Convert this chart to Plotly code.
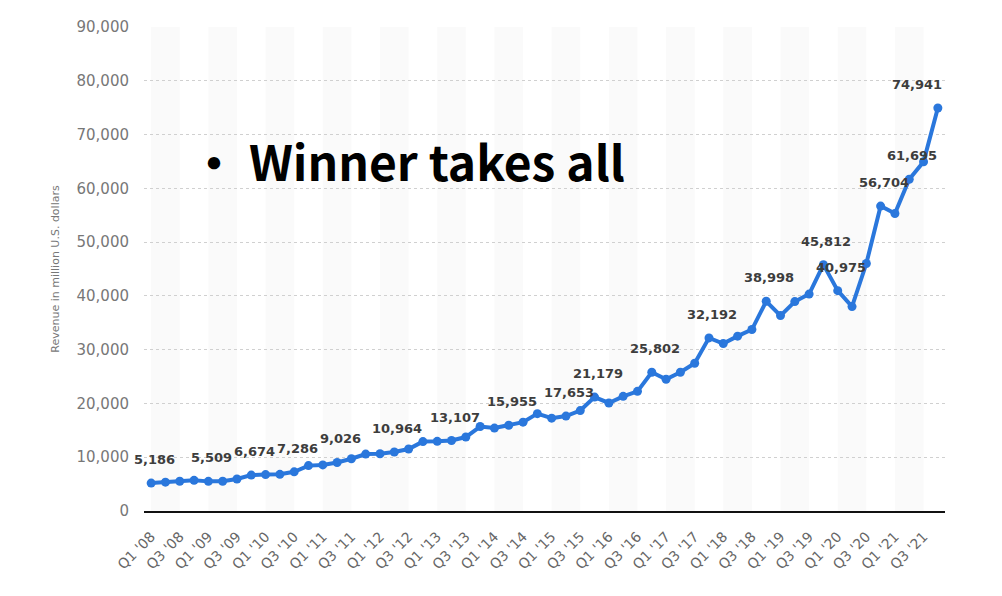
import plotly.graph_objects as go

years = list(range(2008, 2022))
quarters = [f"Q{q} '{str(y)[2:]}" for y in years for q in (1, 2, 3, 4)]

revenue = [
    5186, 5367, 5541, 5701,
    5509, 5523, 5945, 6674,
    6775, 6820, 7286, 8440,
    8575, 9026, 9720, 10584,
    10645, 10964, 11526, 12905,
    12951, 13107, 13754, 15707,
    15420, 15955, 16523, 18103,
    17258, 17653, 18675, 21179,
    20091, 21315, 22250, 25802,
    24507, 25801, 27472, 32192,
    31146, 32513, 33740, 38998,
    36339, 38944, 40336, 45812,
    40975, 38013, 46016, 56704,
    55314, 61695, 64936, 74941,
]

label_idx = [0, 4, 7, 10, 13, 17, 21, 25, 29, 31, 35, 39, 43, 47, 48, 51, 53, 55]
tick_labels = quarters[::2]
y_ticks = list(range(0, 90001, 10000))

line_color = "#2a77dc"
font_family = "DejaVu Sans"

fig = go.Figure()
fig.add_trace(go.Scatter(
    x=quarters, y=revenue, mode="lines+markers",
    line=dict(color=line_color, width=4),
    marker=dict(color=line_color, size=9),
    hoverinfo="x+y", showlegend=False,
))

# alternating bands (every 4 quarters, 2 quarters wide)
shapes = []
for i in range(0, len(quarters), 4):
    shapes.append(dict(type="rect", xref="x", yref="paper", x0=i, x1=i + 2,
                       y0=0, y1=1, fillcolor="#fafafa", line=dict(width=0),
                       layer="below"))

annotations = []
for i in label_idx:
    last = i == len(quarters) - 1
    annotations.append(dict(
        x=quarters[i], y=revenue[i], text=f"{revenue[i]:,}", showarrow=False,
        xanchor="right" if last else "center", yanchor="bottom",
        xshift=6 if last else 3, yshift=14,
        font=dict(family=font_family, size=13, color="#3d3d3d", weight="bold"),
    ))

annotations.append(dict(
    xref="paper", yref="paper", x=0.055, y=0.725, xanchor="left", yanchor="middle",
    text="• Winner takes all", showarrow=False,
    font=dict(family="Noto Sans CJK SC", size=48, color="#000000", weight="bold"),
))

fig.update_layout(
    width=986, height=580,
    margin=dict(l=136, r=49, t=19, b=77),
    paper_bgcolor="white", plot_bgcolor="white",
    shapes=shapes, annotations=annotations,
    xaxis=dict(
        type="category", categoryorder="array", categoryarray=quarters,
        range=[-0.5, len(quarters) - 0.5], automargin=False,
        tickmode="array", tickvals=tick_labels, ticktext=tick_labels,
        tickangle=-45, showgrid=False, zeroline=False,
        showline=True, linecolor="#111111", linewidth=2,
        ticks="", ticklabelstandoff=10,
        tickfont=dict(family=font_family, size=14, color="#666666"),
    ),
    yaxis=dict(
        range=[0, 90000], tickvals=y_ticks, tickformat=",", automargin=False,
        showgrid=True, gridcolor="#d0d0d0", griddash="dot", gridwidth=1,
        zeroline=False, showline=False, ticks="", ticklabelstandoff=14,
        tickfont=dict(family=font_family, size=15, color="#777777"),
        title=dict(text="Revenue in million U.S. dollars", standoff=14,
                   font=dict(family=font_family, size=11, color="#777777")),
    ),
)

fig.write_html("out.html")
